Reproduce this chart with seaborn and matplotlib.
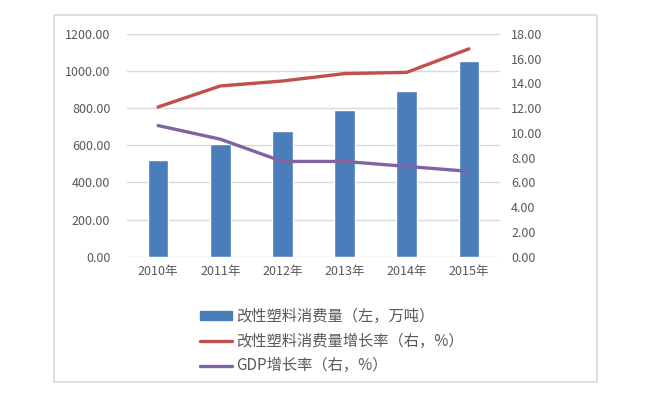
import numpy as np
import pandas as pd
import matplotlib
matplotlib.use("Agg")
import matplotlib.pyplot as plt
import seaborn as sns
from matplotlib.patches import Rectangle
from matplotlib.lines import Line2D
from matplotlib.patches import Patch

years = ["2010年", "2011年", "2012年", "2013年", "2014年", "2015年"]
consumption = [522, 607, 680, 792, 891, 1054]
consumption_growth = [12.1, 13.8, 14.2, 14.8, 14.9, 16.8]
gdp_growth = [10.6, 9.5, 7.7, 7.7, 7.3, 6.9]
legend_labels = ["改性塑料消费量（左，万吨）", "改性塑料消费量增长率（右，%）", "GDP增长率（右，%）"]

sns.set_theme(style="white")
plt.rcParams['font.family'] = ['Noto Sans CJK SC', 'DejaVu Sans']

BLUE = "#4A7EBB"
RED = "#C0504D"
PURPLE = "#8064A2"
TXT = "#595959"
GRID = "#D9D9D9"

W, H = 646, 396
fig = plt.figure(figsize=(W / 100, H / 100), dpi=100)
ax = fig.add_axes([127 / W, 1 - 256.7 / H, (500 - 127) / W, (256.7 - 34) / H])

df = pd.DataFrame({"year": years, "v": consumption})
sns.barplot(data=df, x="year", y="v", ax=ax, color=BLUE, width=0.33, saturation=1)
ax.set_ylim(0, 1200)
ax.set_yticks(np.arange(0, 1201, 200))
ax.set_yticklabels([f"{v:.2f}" for v in np.arange(0, 1201, 200)])
ax.set_xlim(-0.5, len(years) - 0.5)
ax.set_xlabel("")
ax.set_ylabel("")
ax.yaxis.grid(True, color=GRID, linewidth=1)
ax.set_axisbelow(True)
for s in ax.spines.values():
    s.set_visible(False)
ax.tick_params(axis="y", length=0, pad=12, labelsize=9, labelcolor=TXT)
ax.tick_params(axis="x", length=0, pad=6, labelsize=9, labelcolor=TXT)

ax2 = ax.twinx()
xpos = np.arange(len(years))
sns.lineplot(x=xpos, y=consumption_growth, ax=ax2, color=RED, linewidth=2.4)
sns.lineplot(x=xpos, y=gdp_growth, ax=ax2, color=PURPLE, linewidth=2.4)
ax2.set_ylim(0, 18)
ax2.set_yticks(np.arange(0, 18.1, 2))
ax2.set_yticklabels([f"{v:.2f}" for v in np.arange(0, 18.1, 2)])
ax2.set_xlim(-0.5, len(years) - 0.5)
for s in ax2.spines.values():
    s.set_visible(False)
ax2.tick_params(axis="y", length=0, pad=8, labelsize=9, labelcolor=TXT)
ax2.grid(False)

handles = [
    Patch(facecolor=BLUE, edgecolor=BLUE),
    Line2D([0], [0], color=RED, linewidth=2.4),
    Line2D([0], [0], color=PURPLE, linewidth=2.4),
]
leg = fig.legend(handles, legend_labels, loc="upper left",
                 bbox_to_anchor=(194 / W, 1 - 302 / H), frameon=False,
                 fontsize=11, handlelength=2.1, handleheight=0.5,
                 handletextpad=0.25, labelspacing=0.5, borderaxespad=0)
for t in leg.get_texts():
    t.set_color(TXT)

fig.patches.append(Rectangle((54 / W, 1 - 382 / H), (597 - 54) / W, (382 - 15) / H,
                             transform=fig.transFigure, fill=False,
                             edgecolor=GRID, linewidth=1.2))

fig.savefig("out.png", dpi=100, facecolor="white")
